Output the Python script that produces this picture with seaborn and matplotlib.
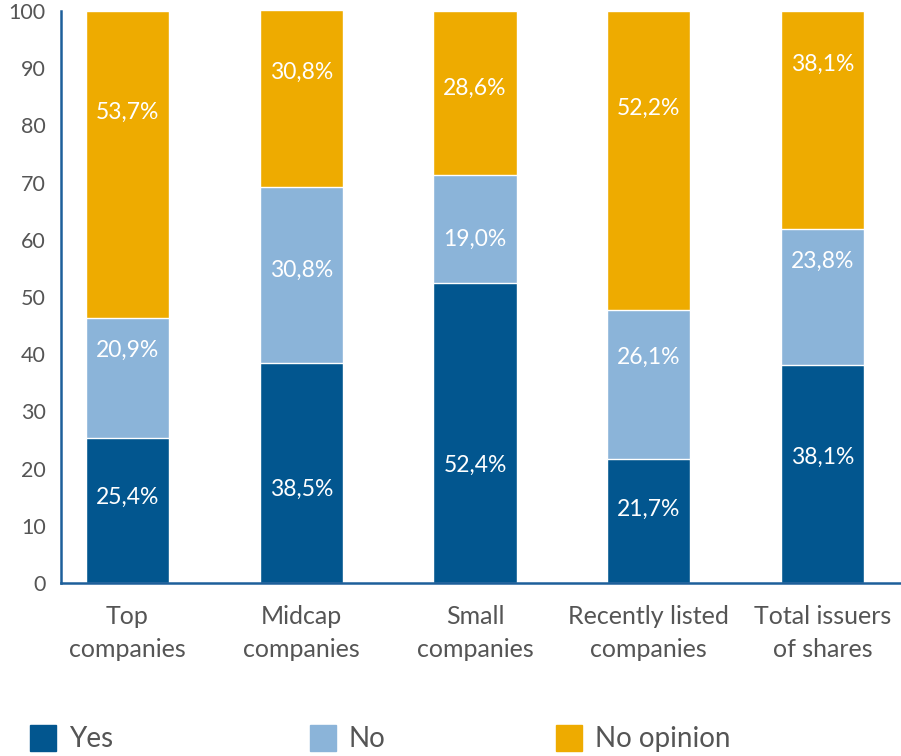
import matplotlib
matplotlib.use("Agg")
import matplotlib.pyplot as plt
import matplotlib.patches as mpatches
import seaborn as sns
import pandas as pd

# Survey answers per issuer group (percent)
categories = ["Top\ncompanies", "Midcap\ncompanies", "Small\ncompanies",
              "Recently listed\ncompanies", "Total issuers\nof shares"]
yes = [25.4, 38.5, 52.4, 21.7, 38.1]
no = [20.9, 30.8, 19.0, 26.1, 23.8]
no_opinion = [53.7, 30.8, 28.6, 52.2, 38.1]
series_names = ["Yes", "No", "No opinion"]
y_ticks = list(range(0, 101, 10))

colors = {"Yes": "#02568f", "No": "#8bb4d9", "No opinion": "#eeab00"}

df = pd.DataFrame({"category": categories, "Yes": yes, "No": no,
                   "No opinion": no_opinion})
df["top_yes"] = df["Yes"]
df["top_no"] = df["Yes"] + df["No"]
df["top_all"] = df["top_no"] + df["No opinion"]

sns.set_theme(style="white")
plt.rcParams["font.family"] = ["Lato", "DejaVu Sans"]

fig = plt.figure(figsize=(9.01, 7.56), dpi=100)
ax = fig.add_axes([61 / 901, 173 / 756, 840 / 901, 572 / 756])

# stacked bars drawn as overlapping cumulative totals
for col, name in [("top_all", "No opinion"), ("top_no", "No"), ("top_yes", "Yes")]:
    sns.barplot(data=df, x="category", y=col, order=categories,
                color=colors[name], saturation=1, width=0.478,
                edgecolor="white", linewidth=1, ax=ax)

# value labels, placed inside each segment
label_y = {
    "Yes": [15.0, 16.3, 20.5, 12.8, 21.9],
    "No": [40.7, 54.7, 60.0, 39.5, 56.3],
    "No opinion": [82.2, 89.2, 86.5, 83.0, 90.7],
}
values = {"Yes": yes, "No": no, "No opinion": no_opinion}
for name in series_names:
    for i, (v, y) in enumerate(zip(values[name], label_y[name])):
        ax.text(i, y, f"{v:.1f}".replace(".", ",") + "%", color="white",
                ha="center", va="center", fontsize=16.5)

ax.set_xlim(-0.383, 4.452)
ax.set_ylim(0, 100)
ax.set_yticks(y_ticks)
ax.set_xlabel("")
ax.set_ylabel("")
for side in ("top", "right"):
    ax.spines[side].set_visible(False)
for side in ("left", "bottom"):
    ax.spines[side].set_color("#1d5f9a")
    ax.spines[side].set_linewidth(1.8)
ax.tick_params(axis="y", length=0, pad=11, labelsize=15.5, labelcolor="#555555")
ax.tick_params(axis="x", length=0, pad=16, labelsize=18, labelcolor="#555555")
for lbl in ax.get_xticklabels():
    lbl.set_linespacing(1.5)

# legend entries spread along the bottom
legend_x = [30 / 901, 310 / 901, 556 / 901]
for name, x in zip(series_names, legend_x):
    handle = mpatches.Patch(color=colors[name], label=name)
    fig.legend(handles=[handle], loc="center left", bbox_to_anchor=(x, 0.023),
               frameon=False, fontsize=20, handlelength=0.94, handleheight=1.05,
               handletextpad=0.45, borderpad=0, borderaxespad=0,
               labelcolor="#555555")

fig.savefig("out.png", dpi=100)
